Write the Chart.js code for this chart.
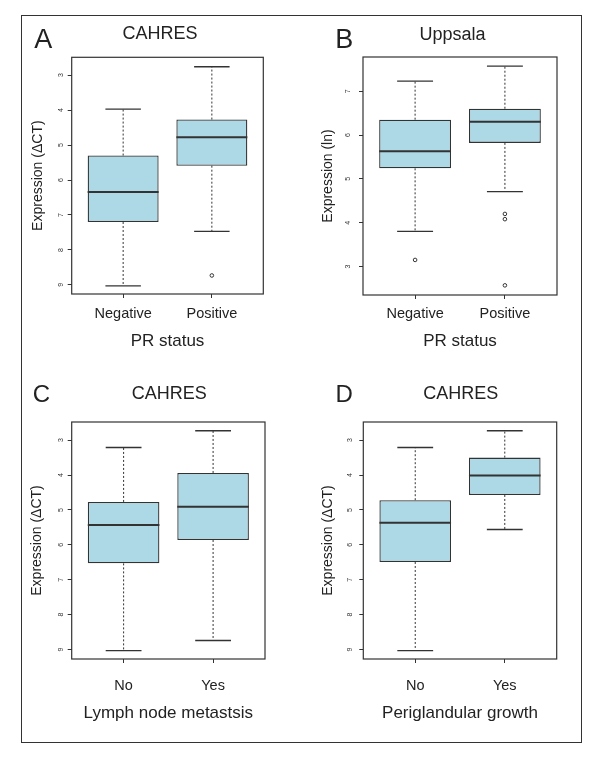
<!DOCTYPE html>
<html>
<head>
<meta charset="utf-8">
<script src="https://cdn.jsdelivr.net/npm/chart.js@4.4.1/dist/chart.umd.min.js"></script>
<style>
  body { margin: 0; background: #fff; width: 600px; height: 761px; position: relative; overflow: hidden; }
  .frame { position: absolute; left: 21px; top: 15px; width: 561px; height: 728px; border: 1px solid #333; box-sizing: border-box; }
</style>
</head>
<body>
<div class="frame"></div>
<script>
// categories
const prCats = ["Negative", "Positive"];
const ynCats = ["No", "Yes"];

// tick labels
const ctTicks = [3, 4, 5, 6, 7, 8, 9];
const lnTicks = [3, 4, 5, 6, 7];

// A - CAHRES, PR status (delta CT)
const aMin = [3.97, 2.76];
const aQ1 = [5.30, 4.27];
const aMed = [6.34, 4.78];
const aQ3 = [7.20, 5.59];
const aMax = [9.03, 7.47];
const aOut = [[], [8.73]];

// B - Uppsala, PR status (ln)
const bMin = [3.80, 4.71];
const bQ1 = [5.24, 5.82];
const bMed = [5.63, 6.30];
const bQ3 = [6.35, 6.60];
const bMax = [7.23, 7.57];
const bOut = [[3.15], [4.20, 4.08, 2.57]];

// C - CAHRES, lymph node metastasis
const cMin = [3.21, 2.73];
const cQ1 = [4.77, 3.94];
const cMed = [5.43, 4.91];
const cQ3 = [6.53, 5.86];
const cMax = [9.03, 8.74];
const cOut = [[], []];

// D - CAHRES, periglandular growth
const dMin = [3.21, 2.73];
const dQ1 = [4.72, 3.50];
const dMed = [5.37, 4.01];
const dQ3 = [6.49, 4.57];
const dMax = [9.03, 5.56];
const dOut = [[], []];

const FONT = "'Liberation Sans', Arial, sans-serif";
const INK = "#333";

const boxPlugin = {
  id: "boxplot",
  afterDatasetsDraw(chart, args, o) {
    const { ctx, chartArea: a, scales: { x, y } } = chart;
    const bars = chart.getDatasetMeta(0).data;
    const line = (x1, y1, x2, y2) => { ctx.beginPath(); ctx.moveTo(x1, y1); ctx.lineTo(x2, y2); ctx.stroke(); };
    ctx.save();
    ctx.strokeStyle = INK;
    o.med.forEach((m, i) => {
      const cx = x.getPixelForValue(i + 1);
      const half = bars[i].width / 2;
      const cap = half / 2;
      // dotted whiskers
      ctx.lineWidth = 1;
      ctx.setLineDash([2, 2]);
      line(cx, y.getPixelForValue(o.q3[i]), cx, y.getPixelForValue(o.max[i]));
      line(cx, y.getPixelForValue(o.q1[i]), cx, y.getPixelForValue(o.min[i]));
      // staples
      ctx.setLineDash([]);
      ctx.lineWidth = 1.3;
      line(cx - cap, y.getPixelForValue(o.max[i]), cx + cap, y.getPixelForValue(o.max[i]));
      line(cx - cap, y.getPixelForValue(o.min[i]), cx + cap, y.getPixelForValue(o.min[i]));
      // median
      ctx.lineWidth = 2;
      line(cx - half, y.getPixelForValue(m), cx + half, y.getPixelForValue(m));
    });
    ctx.lineWidth = 1.2;
    ctx.strokeRect(a.left, a.top, a.right - a.left, a.bottom - a.top);
    ctx.restore();
  }
};

const textPlugin = {
  id: "panelText",
  afterDraw(chart, args, o) {
    const ctx = chart.ctx;
    ctx.save();
    ctx.fillStyle = "#222";
    ctx.textBaseline = "alphabetic";
    ctx.textAlign = "center";
    ctx.font = "18px " + FONT;
    ctx.fillText(o.title, o.titleX, o.titleY);
    ctx.textAlign = "left";
    ctx.font = o.letterSize + "px " + FONT;
    ctx.fillText(o.letter, o.letterX, o.letterY);
    ctx.restore();
  }
};

function makePanel(L, D) {
  const cv = document.createElement("canvas");
  cv.width = L.w;
  cv.height = L.h;
  cv.style.cssText = `position:absolute;left:${L.x}px;top:${L.y}px`;
  document.body.appendChild(cv);

  const areaLeft = L.plot.l - L.x;
  const areaTop = L.plot.t - L.y;
  const padR = L.x + L.w - L.plot.r;
  const xH = L.y + L.h - L.plot.b;

  const grid = { display: true, offset: false, drawOnChartArea: false, drawTicks: true, tickLength: 4, color: INK, lineWidth: 1 };

  new Chart(cv, {
    type: "bar",
    data: {
      datasets: [
        {
          type: "bar",
          data: D.cats.map((c, i) => ({ x: i + 1, y: [D.q1[i], D.q3[i]] })),
          backgroundColor: "#add8e6",
          borderColor: INK,
          borderWidth: 1.3,
          borderSkipped: false,
          barPercentage: 0.8,
          categoryPercentage: 1
        },
        {
          type: "scatter",
          data: D.out.flatMap((vals, i) => vals.map(v => ({ x: i + 1, y: v }))),
          pointRadius: 1.8,
          pointBackgroundColor: "#fff",
          pointBorderColor: INK,
          pointBorderWidth: 1
        }
      ]
    },
    options: {
      responsive: false,
      animation: false,
      layout: { padding: { left: 0, top: areaTop, right: padR, bottom: 0 } },
      plugins: {
        legend: { display: false },
        tooltip: { enabled: false },
        boxplot: { min: D.min, q1: D.q1, med: D.med, q3: D.q3, max: D.max },
        panelText: {
          title: D.title, titleX: L.titleX - L.x, titleY: L.titleY - L.y,
          letter: D.letter, letterSize: L.letterSize, letterX: L.letterX - L.x, letterY: L.letterY - L.y
        }
      },
      scales: {
        x: {
          type: "linear",
          offset: false,
          min: 0.42,
          max: 2.58,
          afterFit: s => { s.height = xH; },
          afterBuildTicks: s => { s.ticks = D.cats.map((c, i) => ({ value: i + 1 })); },
          ticks: {
            callback: v => D.cats[v - 1],
            font: { family: FONT, size: 14.5 },
            color: "#222",
            padding: L.xTickPad,
            maxRotation: 0,
            autoSkip: false
          },
          grid: grid,
          border: { display: false },
          title: {
            display: true,
            text: D.xTitle,
            font: { family: FONT, size: 17 },
            color: "#222",
            padding: { top: 0, bottom: L.xTitlePad }
          }
        },
        y: {
          type: "linear",
          reverse: D.reverse,
          min: D.yMin,
          max: D.yMax,
          afterFit: s => { s.width = areaLeft; },
          afterBuildTicks: s => { s.ticks = D.ticks.map(v => ({ value: v })); },
          ticks: {
            font: { family: FONT, size: 7 },
            color: INK,
            padding: L.yTickPad,
            minRotation: 90,
            maxRotation: 90,
            crossAlign: "center"
          },
          grid: grid,
          border: { display: false },
          title: {
            display: true,
            text: D.yTitle,
            font: { family: FONT, size: 14 },
            color: "#222",
            padding: { top: L.yTitlePad, bottom: 0 }
          }
        }
      }
    },
    plugins: [boxPlugin, textPlugin]
  });
}

makePanel(
  { x: 21, y: 15, w: 279, h: 355, plot: { l: 71.7, t: 57.3, r: 263.3, b: 294 },
    titleX: 160, titleY: 39.3, letterSize: 27, letterX: 34.3, letterY: 48.3,
    xTickPad: 7.6, xTitlePad: 18.5, yTickPad: 4.75, yTitlePad: 8.9 },
  { letter: "A", title: "CAHRES", cats: prCats, xTitle: "PR status", yTitle: "Expression (\u0394CT)",
    ticks: ctTicks, reverse: true, yMin: 2.49, yMax: 9.26,
    min: aMin, q1: aQ1, med: aMed, q3: aQ3, max: aMax, out: aOut }
);

makePanel(
  { x: 300, y: 15, w: 282, h: 355, plot: { l: 363, t: 57, r: 557, b: 295 },
    titleX: 452.5, titleY: 40, letterSize: 27, letterX: 335.2, letterY: 48.3,
    xTickPad: 6.5, xTitlePad: 18.3, yTickPad: 8.55, yTitlePad: 19.3 },
  { letter: "B", title: "Uppsala", cats: prCats, xTitle: "PR status", yTitle: "Expression (ln)",
    ticks: lnTicks, reverse: false, yMin: 2.35, yMax: 7.78,
    min: bMin, q1: bQ1, med: bMed, q3: bQ3, max: bMax, out: bOut }
);

makePanel(
  { x: 21, y: 370, w: 279, h: 372, plot: { l: 71.7, t: 422, r: 265, b: 659 },
    titleX: 169.2, titleY: 399.3, letterSize: 24, letterX: 32.8, letterY: 401.7,
    xTickPad: 14.1, xTitlePad: 18.3, yTickPad: 4.45, yTitlePad: 7.3 },
  { letter: "C", title: "CAHRES", cats: ynCats, xTitle: "Lymph node metastsis", yTitle: "Expression (\u0394CT)",
    ticks: ctTicks, reverse: true, yMin: 2.48, yMax: 9.27,
    min: cMin, q1: cQ1, med: cMed, q3: cQ3, max: cMax, out: cOut }
);

makePanel(
  { x: 300, y: 370, w: 282, h: 372, plot: { l: 363.3, t: 422, r: 556.7, b: 659 },
    titleX: 460.8, titleY: 399.3, letterSize: 24, letterX: 335.4, letterY: 401.7,
    xTickPad: 14.1, xTitlePad: 18.3, yTickPad: 7.35, yTitlePad: 19.3 },
  { letter: "D", title: "CAHRES", cats: ynCats, xTitle: "Periglandular growth", yTitle: "Expression (\u0394CT)",
    ticks: ctTicks, reverse: true, yMin: 2.48, yMax: 9.27,
    min: dMin, q1: dQ1, med: dMed, q3: dQ3, max: dMax, out: dOut }
);
</script>
</body>
</html>
